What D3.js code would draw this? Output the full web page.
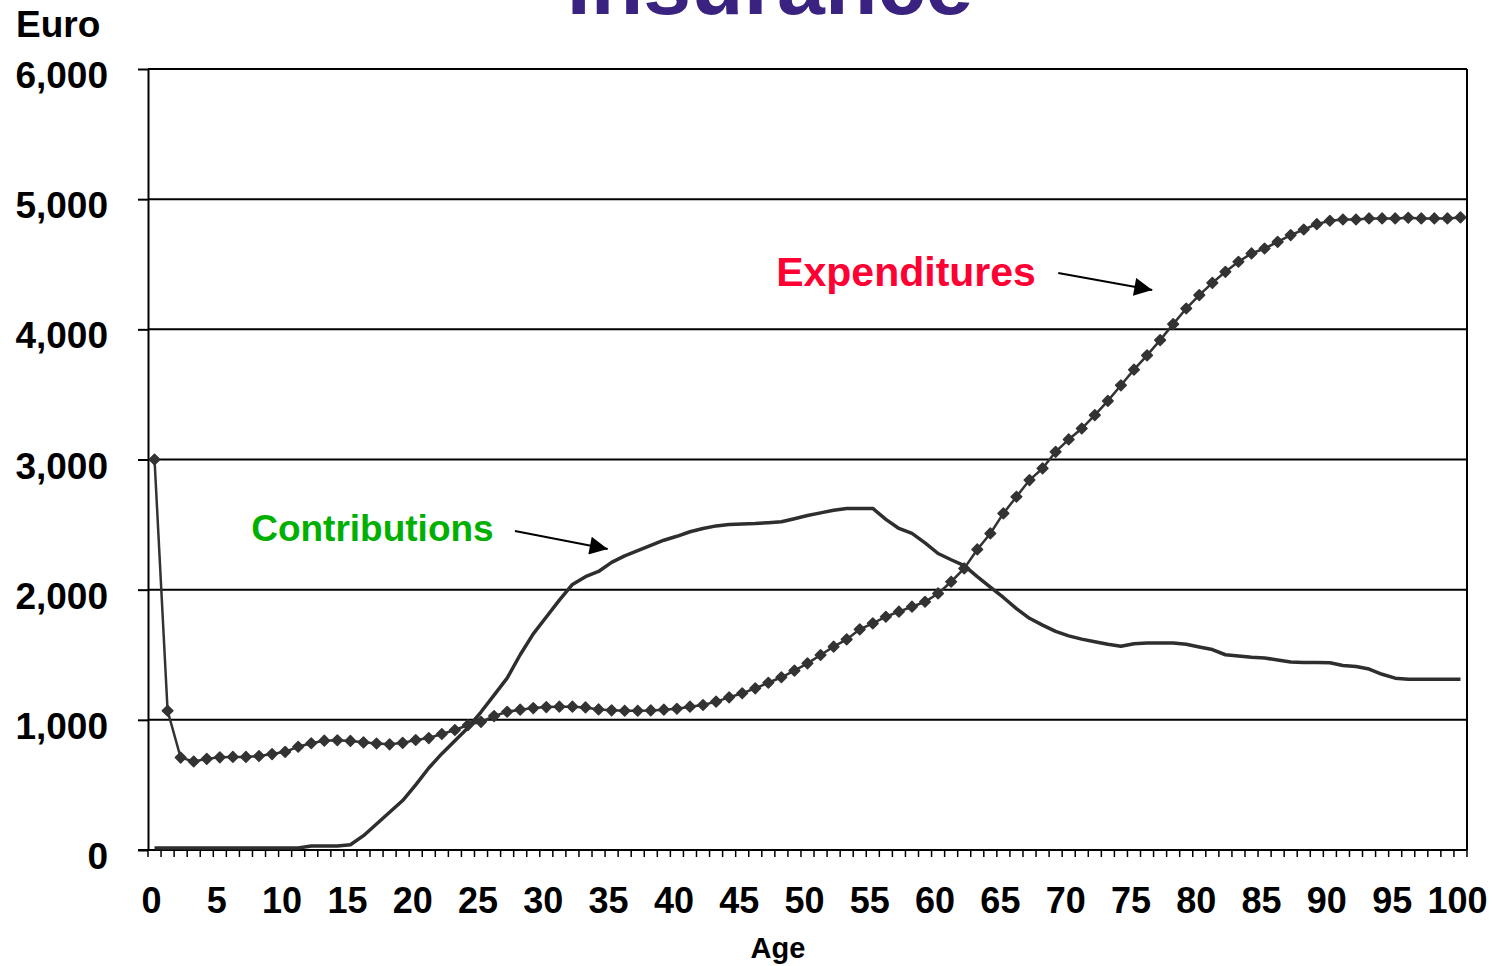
<!DOCTYPE html>
<html>
<head>
<meta charset="utf-8">
<script src="https://cdn.jsdelivr.net/npm/d3@7"></script>
<style>
  body { margin: 0; background: #fff; }
  svg text { font-family: "Liberation Sans", Arial, sans-serif; font-weight: bold; }
</style>
</head>
<body>
<div id="chart"></div>
<script>
// ages 0..100 (one category per year)
var ages = d3.range(0, 101)

// expenditures per insured person, Euro (marked line)
var expenditures = [
  3000, 1070, 710, 680, 700, 712, 715, 715, 722, 737,
  754, 793, 820, 840, 843, 838, 827, 818, 812, 823,
  845, 860, 891, 922, 960, 985, 1029, 1062, 1078, 1090,
  1098, 1101, 1101, 1095, 1080, 1073, 1070, 1070, 1072, 1078,
  1085, 1101, 1114, 1140, 1173, 1204, 1242, 1285, 1327, 1378,
  1434, 1498, 1562, 1618, 1695, 1741, 1792, 1831, 1869, 1907,
  1971, 2061, 2163, 2309, 2432, 2586, 2714, 2842, 2932, 3059,
  3154, 3238, 3341, 3450, 3570, 3690, 3800, 3917, 4040, 4160,
  4263, 4357, 4442, 4519, 4583, 4621, 4672, 4724, 4767, 4808,
  4834, 4844, 4844, 4852, 4852, 4852, 4857, 4852, 4852, 4852,
  4860]

// contributions per person, Euro (plain line)
var contributions = [
  15, 15, 15, 15, 15, 15, 15, 15, 15, 15,
  15, 15, 30, 30, 30, 40, 110, 200, 290, 380,
  500, 630, 740, 840, 940, 1060, 1190, 1320, 1500, 1660,
  1790, 1920, 2040, 2100, 2140, 2210, 2260, 2300, 2340, 2380,
  2410, 2445, 2470, 2490, 2500, 2505, 2508, 2515, 2522, 2545,
  2570, 2590, 2610, 2624, 2624, 2624, 2540, 2470, 2432, 2360,
  2278, 2230, 2185, 2100, 2020, 1940, 1855, 1780, 1728, 1680,
  1645, 1620, 1600, 1580, 1565, 1585, 1590, 1590, 1590, 1580,
  1560, 1540, 1500, 1490, 1480, 1475, 1460, 1445, 1440, 1440,
  1438, 1418, 1410, 1390, 1350, 1320, 1311, 1311, 1311, 1311,
  1311]

var yTicks = [0, 1000, 2000, 3000, 4000, 5000, 6000]
var xLabels = [0, 5, 10, 15, 20, 25, 30, 35, 40, 45, 50, 55, 60, 65, 70, 75, 80, 85, 90, 95, 100]

// labels with arrows, in data units (age, Euro)
var annotations = [
  {text: "Contributions", color: "#00b000", size: 37, age: 7.4, value: 2374,
   from: [27.6, 2451], to: [34.7, 2312]},
  {text: "Expenditures", color: "#ff0033", size: 41, age: 47.6, value: 4333,
   from: [69.2, 4433], to: [76.4, 4302]}
]

function makeChart() {
    var margin = {top: 69, right: 26, bottom: 116, left: 148},
        width = 1493 - margin.left - margin.right,
        height = 966 - margin.top - margin.bottom;

    d3.select("#chart").html('')
    var svg = d3.select("#chart")
        .append("svg")
        .attr("width", width + margin.left + margin.right)
        .attr("height", height + margin.top + margin.bottom)

    svg.append("defs").append("marker")
        .attr("id", "arrow")
        .attr("viewBox", "0 0 10 10")
        .attr("refX", 10)
        .attr("refY", 5)
        .attr("markerWidth", 11)
        .attr("markerHeight", 9)
        .attr("markerUnits", "strokeWidth")
        .attr("orient", "auto")
        .append("path")
        .attr("d", "M0,0 L10,5 L0,10 z")
        .attr("fill", "#000")

    // title, mostly cut off by the top edge (as in the source slide)
    svg.append("text")
        .attr("x", 770)
        .attr("y", 14)
        .attr("text-anchor", "middle")
        .style("font-size", "86px")
        .attr("fill", "#3a2280")
        .text("Insurance")

    svg.append("text")
        .attr("x", 16)
        .attr("y", 37)
        .style("font-size", "37px")
        .attr("fill", "#000")
        .text("Euro")

    var g = svg.append("g")
        .attr("transform", "translate(" + margin.left + "," + margin.top + ")");

    var x = d3.scaleBand()
        .domain(ages)
        .range([0, width])
    var xc = function(a) { return x(a) + x.bandwidth() / 2 }

    var y = d3.scaleLinear()
        .domain([0, 6000])
        .range([height, 0])

    // gridlines
    g.selectAll("line.grid")
        .data(yTicks.slice(1))
        .enter()
        .append("line")
        .attr("class", "grid")
        .attr("x1", 0)
        .attr("x2", width)
        .attr("y1", function(d) { return y(d) })
        .attr("y2", function(d) { return y(d) })
        .attr("stroke", "#000")
        .attr("stroke-width", 2)

    // right border
    g.append("line")
        .attr("x1", width).attr("x2", width)
        .attr("y1", 0).attr("y2", height)
        .attr("stroke", "#000")
        .attr("stroke-width", 2)

    // Y axis
    var yAxis = g.append("g")
        .call(d3.axisLeft(y).tickValues(yTicks).tickSize(10).tickSizeOuter(0)
            .tickPadding(30).tickFormat(d3.format(",")))
    yAxis.select(".domain").attr("stroke-width", 2)
    yAxis.selectAll(".tick line").attr("stroke-width", 2)
    yAxis.selectAll(".tick text")
        .style("font-size", "37px")
        .attr("fill", "#000")
        .attr("dy", "0.5em")

    // X axis: one tick mark at every category boundary
    g.append("line")
        .attr("x1", -10).attr("x2", width)
        .attr("y1", height).attr("y2", height)
        .attr("stroke", "#000")
        .attr("stroke-width", 2)
    g.selectAll("line.xtick")
        .data(ages.concat([101]))
        .enter()
        .append("line")
        .attr("class", "xtick")
        .attr("x1", function(d) { return d > 100 ? width : x(d) })
        .attr("x2", function(d) { return d > 100 ? width : x(d) })
        .attr("y1", height)
        .attr("y2", height + 7)
        .attr("stroke", "#000")
        .attr("stroke-width", 1.5)
    g.selectAll("text.xlabel")
        .data(xLabels)
        .enter()
        .append("text")
        .attr("class", "xlabel")
        .attr("x", function(d) { return xc(d) - 3 })
        .attr("y", height + 63)
        .attr("text-anchor", "middle")
        .style("font-size", "36px")
        .attr("fill", "#000")
        .text(function(d) { return d })

    g.append("text")
        .attr("x", 630)
        .attr("y", height + 108)
        .attr("text-anchor", "middle")
        .style("font-size", "29px")
        .attr("fill", "#000")
        .text("Age")

    // contributions line
    g.append("path")
        .datum(contributions)
        .attr("fill", "none")
        .attr("stroke", "#2e2e2e")
        .attr("stroke-width", 3.5)
        .attr("stroke-linejoin", "round")
        .attr("d", d3.line()
            .x(function(d, i) { return xc(ages[i]) })
            .y(function(d) { return y(d) }))

    // expenditures line + diamond markers
    g.append("path")
        .datum(expenditures)
        .attr("fill", "none")
        .attr("stroke", "#333")
        .attr("stroke-width", 2.5)
        .attr("d", d3.line()
            .x(function(d, i) { return xc(ages[i]) })
            .y(function(d) { return y(d) }))
    g.selectAll("path.marker")
        .data(expenditures)
        .enter()
        .append("path")
        .attr("class", "marker")
        .attr("d", d3.symbol().type(d3.symbolDiamond2).size(72))
        .attr("transform", function(d, i) {
            return "translate(" + xc(ages[i]) + "," + y(d) + ")"
        })
        .attr("fill", "#333")
        .attr("stroke", "#333")
        .attr("stroke-width", 1.5)
        .attr("stroke-linejoin", "round")

    // annotations
    var xa = function(a) { return x(0) + x.bandwidth() / 2 + a * x.step() }
    annotations.forEach(function(a) {
        g.append("text")
            .attr("x", xa(a.age))
            .attr("y", y(a.value))
            .style("font-size", a.size + "px")
            .attr("fill", a.color)
            .text(a.text)
        g.append("line")
            .attr("x1", xa(a.from[0]))
            .attr("y1", y(a.from[1]))
            .attr("x2", xa(a.to[0]))
            .attr("y2", y(a.to[1]))
            .attr("stroke", "#000")
            .attr("stroke-width", 2)
            .attr("marker-end", "url(#arrow)")
    })
}

makeChart()
</script>
</body>
</html>
